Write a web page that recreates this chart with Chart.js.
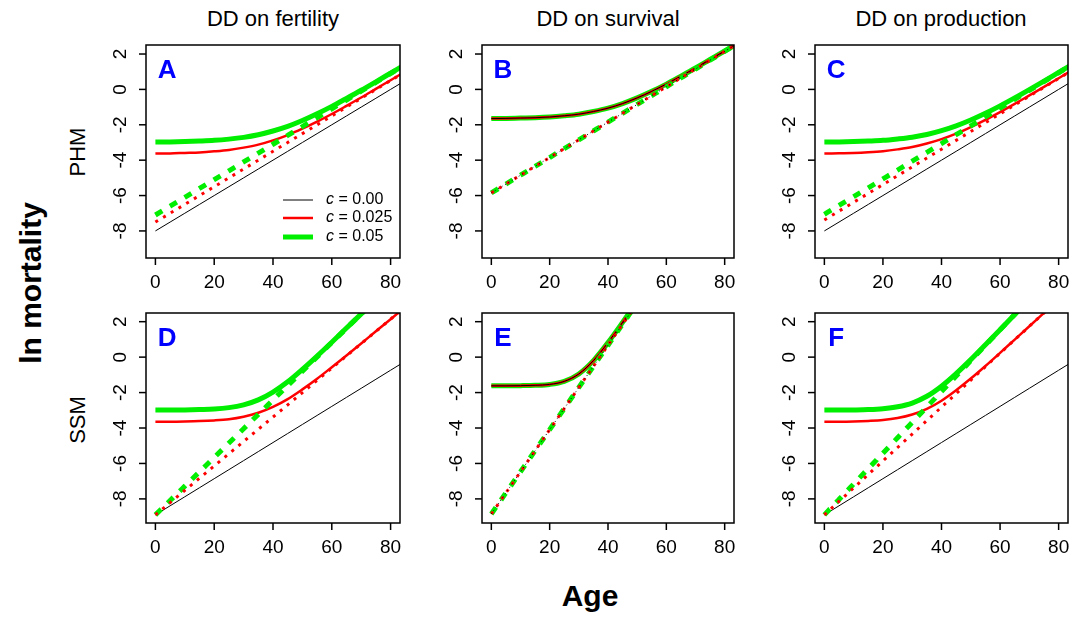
<!DOCTYPE html>
<html><head><meta charset="utf-8">
<script src="https://cdn.jsdelivr.net/npm/chart.js@4.4.0/dist/chart.umd.min.js"></script>
<style>
html,body{margin:0;padding:0;background:#fff;}
#wrap{position:relative;width:1083px;height:617px;overflow:hidden;background:#fff;}
#wrap canvas{position:absolute;left:0;top:0;}
.lbl{position:absolute;font-family:"Liberation Sans",Arial,sans-serif;white-space:nowrap;line-height:1;color:#000;}
</style></head><body>
<div id="wrap">
  <div class="lbl" style="left:273px;top:19px;font-size:22px;transform:translate(-50%,-50%);">DD on fertility</div>
  <div class="lbl" style="left:608px;top:19px;font-size:22px;transform:translate(-50%,-50%);">DD on survival</div>
  <div class="lbl" style="left:941px;top:19px;font-size:22px;transform:translate(-50%,-50%);">DD on production</div>
  <div class="lbl" style="left:78px;top:152px;font-size:22px;transform:translate(-50%,-50%) rotate(-90deg);">PHM</div>
  <div class="lbl" style="left:78px;top:420px;font-size:22px;transform:translate(-50%,-50%) rotate(-90deg);">SSM</div>
  <div class="lbl" style="left:31px;top:283px;font-size:30px;font-weight:bold;transform:translate(-50%,-50%) rotate(-90deg);">ln mortality</div>
  <div class="lbl" style="left:590px;top:596px;font-size:30px;font-weight:bold;transform:translate(-50%,-50%);">Age</div>
</div>
<script>
// ---------------- data ----------------
const ages = [0,5,10,15,20,25,30,35,40,45,50,55,60,65,70,75,80,85];
const xTicks = [0,20,40,60,80];
const yTicks = [-8,-6,-4,-2,0,2];
const legendLabels = ["0.00","0.025","0.05"];

// Panel A  (PHM, DD on fertility)
const aBlack      = [-8.0,-7.5,-7.0,-6.5,-6.0,-5.5,-5.0,-4.5,-4.0,-3.5,-3.0,-2.5,-2.0,-1.5,-1.0,-0.5,0.0,0.5];
const aRedDot     = [-7.5,-7.0,-6.5,-6.0,-5.5,-5.0,-4.5,-4.0,-3.5,-3.0,-2.5,-2.0,-1.5,-1.0,-0.5,0.0,0.5,1.0];
const aGreenDash  = [-7.1,-6.6,-6.1,-5.6,-5.1,-4.6,-4.1,-3.6,-3.1,-2.6,-2.1,-1.6,-1.1,-0.6,-0.1,0.4,0.9,1.4];
const aRedSolid   = [-3.63,-3.62,-3.59,-3.56,-3.5,-3.42,-3.29,-3.12,-2.88,-2.58,-2.22,-1.82,-1.39,-0.93,-0.46,0.03,0.52,1.01];
const aGreenSolid = [-2.98,-2.97,-2.95,-2.92,-2.88,-2.81,-2.71,-2.56,-2.35,-2.09,-1.76,-1.38,-0.96,-0.51,-0.05,0.43,0.92,1.41];

// Panel B  (PHM, DD on survival) - all c values coincide
const bSolid = [-1.65,-1.64,-1.62,-1.6,-1.56,-1.49,-1.4,-1.25,-1.06,-0.8,-0.48,-0.11,0.3,0.75,1.21,1.69,2.17,2.66];
const bDash  = [-5.85,-5.35,-4.85,-4.35,-3.85,-3.35,-2.85,-2.35,-1.85,-1.35,-0.85,-0.35,0.15,0.65,1.15,1.65,2.15,2.65];

// Panel C  (PHM, DD on production)
const cBlack      = [-8.0,-7.5,-7.0,-6.5,-6.0,-5.5,-5.0,-4.5,-4.0,-3.5,-3.0,-2.5,-2.0,-1.5,-1.0,-0.5,0.0,0.5];
const cRedDot     = [-7.38,-6.88,-6.38,-5.88,-5.38,-4.88,-4.38,-3.88,-3.38,-2.88,-2.38,-1.88,-1.38,-0.88,-0.38,0.12,0.62,1.12];
const cGreenDash  = [-7.06,-6.56,-6.06,-5.56,-5.06,-4.56,-4.06,-3.56,-3.06,-2.56,-2.06,-1.56,-1.06,-0.56,-0.06,0.44,0.94,1.44];
const cRedSolid   = [-3.63,-3.61,-3.59,-3.55,-3.49,-3.39,-3.26,-3.06,-2.81,-2.5,-2.13,-1.72,-1.28,-0.82,-0.34,0.14,0.63,1.13];
const cGreenSolid = [-2.98,-2.97,-2.95,-2.92,-2.88,-2.8,-2.7,-2.55,-2.33,-2.06,-1.73,-1.35,-0.93,-0.48,-0.01,0.47,0.96,1.45];

// Panel D  (SSM, DD on fertility)
const dBlack      = [-8.9,-8.39,-7.88,-7.37,-6.86,-6.35,-5.84,-5.33,-4.82,-4.31,-3.8,-3.29,-2.78,-2.27,-1.76,-1.25,-0.74,-0.23];
const dRedDot     = [-8.9,-8.21,-7.52,-6.83,-6.14,-5.45,-4.76,-4.07,-3.38,-2.69,-2.0,-1.31,-0.62,0.07,0.76,1.45,2.14,2.83];
const dGreenDash  = [-8.9,-8.09,-7.28,-6.47,-5.66,-4.85,-4.04,-3.23,-2.42,-1.61,-0.8,0.01,0.82,1.63,2.44,3.25,4.06,4.87];
const dRedSolid   = [-3.64,-3.64,-3.63,-3.61,-3.57,-3.5,-3.36,-3.14,-2.81,-2.37,-1.82,-1.22,-0.57,0.09,0.77,1.46,2.14,2.83];
const dGreenSolid = [-2.99,-2.99,-2.98,-2.96,-2.93,-2.85,-2.69,-2.41,-1.97,-1.39,-0.69,0.06,0.84,1.64,2.44,3.25,4.06,4.87];

// Panel E  (SSM, DD on survival) - all c values coincide
const eSolid = [-1.62,-1.62,-1.61,-1.59,-1.54,-1.37,-0.95,-0.2,0.82,1.96,3.15,4.35,5.55,6.75,7.95,9.15,10.35,11.55];
const eDash  = [-8.85,-7.66,-6.47,-5.28,-4.09,-2.9,-1.71,-0.52,0.67,1.86,3.05,4.24,5.43,6.62,7.81,9.0,10.19,11.38];

// Panel F  (SSM, DD on production)
const fBlack      = [-8.9,-8.39,-7.88,-7.37,-6.86,-6.35,-5.84,-5.33,-4.82,-4.31,-3.8,-3.29,-2.78,-2.27,-1.76,-1.25,-0.74,-0.23];
const fRedDot     = [-8.9,-8.14,-7.38,-6.62,-5.86,-5.1,-4.34,-3.58,-2.82,-2.06,-1.3,-0.54,0.22,0.98,1.74,2.5,3.26,4.02];
const fGreenDash  = [-8.9,-8.03,-7.16,-6.29,-5.42,-4.55,-3.68,-2.81,-1.94,-1.07,-0.2,0.67,1.54,2.41,3.28,4.15,5.02,5.89];
const fRedSolid   = [-3.64,-3.64,-3.63,-3.6,-3.55,-3.44,-3.24,-2.92,-2.46,-1.87,-1.21,-0.5,0.24,0.99,1.74,2.5,3.26,4.02];
const fGreenSolid = [-2.99,-2.99,-2.98,-2.96,-2.91,-2.8,-2.59,-2.21,-1.64,-0.93,-0.14,0.7,1.55,2.41,3.28,4.15,5.02,5.89];

// ---------------- rendering ----------------
const W = 1083, H = 617;
const FONT = '"Liberation Sans", Arial, sans-serif';
const BLACK = '#000000', RED = '#ff0000', GREEN = '#00ee00', BLUE = '#0000ff';

function line(vals, color, width, dash) {
  return {
    data: ages.map((a, i) => ({x: a, y: vals[i]})),
    borderColor: color, borderWidth: width, borderDash: dash || [],
    pointRadius: 0, fill: false, clip: 0,
    cubicInterpolationMode: 'monotone', borderCapStyle: 'butt'
  };
}
const solidBlack = v => line(v, BLACK, 1);
const solidRed   = v => line(v, RED, 2.5);
const solidGreen = v => line(v, GREEN, 5);
const dotRed     = v => line(v, RED, 3, [3, 6]);
const dashGreen  = v => line(v, GREEN, 5, [8, 9]);
const dotBlack   = v => line(v, BLACK, 1, [1, 3]);

const rAxes = {
  id: 'rAxes',
  afterDatasetsDraw(chart, args, o) {
    const {ctx, chartArea: a, scales: {x, y}} = chart;
    ctx.save();
    ctx.strokeStyle = '#000'; ctx.fillStyle = '#000'; ctx.lineWidth = 1.5;
    ctx.strokeRect(a.left, a.top, a.right - a.left, a.bottom - a.top);
    ctx.font = '19px ' + FONT;
    ctx.textAlign = 'center'; ctx.textBaseline = 'middle';
    xTicks.forEach(v => {
      const px = x.getPixelForValue(v);
      ctx.beginPath(); ctx.moveTo(px, a.bottom); ctx.lineTo(px, a.bottom + 7); ctx.stroke();
      ctx.fillText(String(v), px, a.bottom + 25);
    });
    yTicks.forEach(v => {
      const py = y.getPixelForValue(v);
      ctx.beginPath(); ctx.moveTo(a.left - 7, py); ctx.lineTo(a.left, py); ctx.stroke();
      ctx.save(); ctx.translate(a.left - 25, py); ctx.rotate(-Math.PI / 2);
      ctx.fillText(String(v), 0, 0); ctx.restore();
    });
    // panel letter
    ctx.font = 'bold 26px ' + FONT; ctx.fillStyle = BLUE;
    ctx.fillText(o.letter, x.getPixelForValue(4), y.getPixelForValue(1.05));
    // legend
    if (o.legend) {
      const items = [[BLACK, 1], [RED, 2.5], [GREEN, 5]];
      const rows = [a.bottom - 58, a.bottom - 40, a.bottom - 21];
      items.forEach((it, i) => {
        const ly = rows[i];
        ctx.strokeStyle = it[0]; ctx.lineWidth = it[1];
        ctx.beginPath(); ctx.moveTo(a.right - 117, ly); ctx.lineTo(a.right - 87, ly); ctx.stroke();
        ctx.fillStyle = '#000'; ctx.textAlign = 'left';
        ctx.font = 'italic 16px ' + FONT;
        const tx = a.right - 74;
        ctx.fillText('c', tx, ly);
        const cw = ctx.measureText('c').width;
        ctx.font = '16px ' + FONT;
        ctx.fillText(' = ' + legendLabels[i], tx + cw, ly);
      });
    }
    ctx.restore();
  }
};

const wrap = document.getElementById('wrap');
function panel(box, yr, sets, letter, legend) {
  const cv = document.createElement('canvas');
  cv.width = W; cv.height = H;
  wrap.appendChild(cv);
  const n = sets.length;
  sets.forEach((s, i) => { s.order = n - i; });
  new Chart(cv, {
    type: 'line',
    data: {datasets: sets},
    options: {
      responsive: false, animation: false, events: [],
      layout: {padding: {left: box[0], top: box[1], right: W - box[2], bottom: H - box[3]}},
      plugins: {legend: {display: false}, tooltip: {enabled: false}, rAxes: {letter, legend}},
      scales: {
        x: {type: 'linear', min: -3.2, max: 83.2, display: false},
        y: {type: 'linear', min: yr[0], max: yr[1], display: false}
      }
    },
    plugins: [rAxes]
  });
}

const row1 = [-9.53, 2.51], row2 = [-9.36, 2.49];
panel([146, 45, 400, 258], row1, [solidGreen(aGreenSolid), solidRed(aRedSolid), solidBlack(aBlack), dashGreen(aGreenDash), dotRed(aRedDot)], 'A', true);
panel([482, 45, 734, 258], row1, [solidGreen(bSolid), solidRed(bSolid), solidBlack(bSolid), dashGreen(bDash), dotRed(bDash), dotBlack(bDash)], 'B', false);
panel([815, 45, 1068, 258], row1, [solidGreen(cGreenSolid), solidRed(cRedSolid), solidBlack(cBlack), dashGreen(cGreenDash), dotRed(cRedDot)], 'C', false);
panel([146, 313, 400, 523], row2, [solidGreen(dGreenSolid), solidRed(dRedSolid), solidBlack(dBlack), dashGreen(dGreenDash), dotRed(dRedDot)], 'D', false);
panel([482, 313, 734, 523], row2, [solidGreen(eSolid), solidRed(eSolid), solidBlack(eSolid), dashGreen(eDash), dotRed(eDash), dotBlack(eDash)], 'E', false);
panel([815, 313, 1068, 523], row2, [solidGreen(fGreenSolid), solidRed(fRedSolid), solidBlack(fBlack), dashGreen(fGreenDash), dotRed(fRedDot)], 'F', false);
</script>
</body></html>
